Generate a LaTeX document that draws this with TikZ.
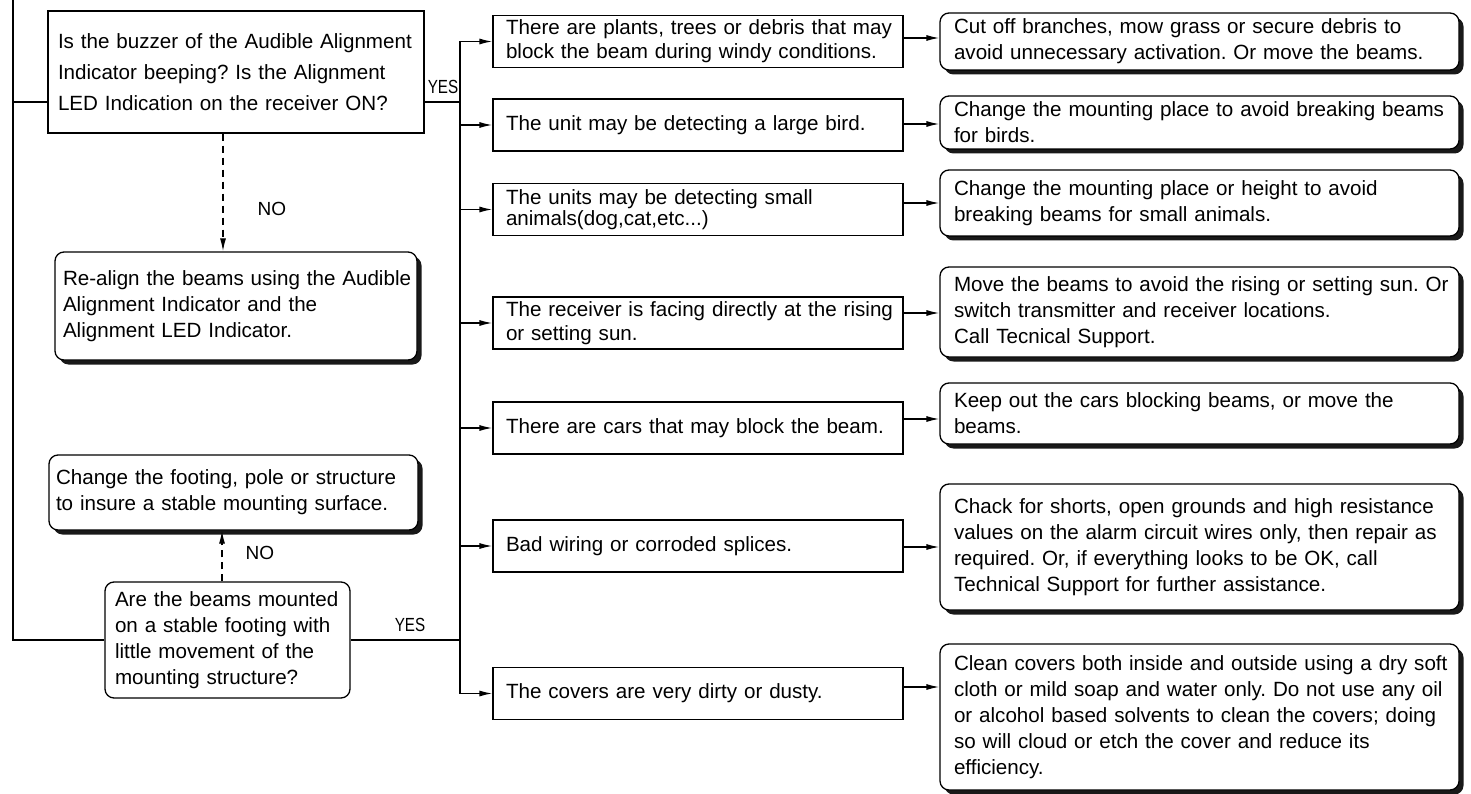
\documentclass[tikz,border=0pt]{standalone}
\usepackage{fontspec}
\setmainfont{Liberation Sans}
\usetikzlibrary{arrows.meta,shadows,calc}
\frenchspacing
\begin{document}
\begin{tikzpicture}[x=1pt,y=-1pt,
  line width=1.3pt,
  txt/.style={font=\fontsize{20.6}{26}\selectfont, align=left, inner ysep=0pt},
  sqbox/.style={txt, draw, fill=white},
  rbox/.style={txt, draw, fill=white, rounded corners=9pt},
  shbox/.style={rbox, general shadow={fill=black!90, shadow xshift=4.5pt, shadow yshift=-4.5pt}},
  bbox/.style={sqbox, minimum width=410pt, text width=384pt, inner xsep=13pt, minimum height=52pt, font=\fontsize{20.6}{24}\selectfont},
  resbox/.style={shbox, minimum width=519pt, text width=491pt, inner xsep=14pt},
  arr/.style={-{Latex[length=13pt,width=6pt]}},
  dsh/.style={dash pattern=on 7pt off 5pt},
  lbl/.style={font=\fontsize{19}{19}\selectfont, inner sep=0pt},
]
\useasboundingbox (0,0) rectangle (1471,794);

% left column
\node[sqbox, minimum width=376pt, text width=356pt, inner xsep=10pt, minimum height=122pt,
      font=\fontsize{20.6}{31}\selectfont] (Q1) at (236,72)
  {\mbox{Is the buzzer of the Audible Alignment}\\\mbox{Indicator beeping? Is the Alignment}\\\mbox{LED Indication on the receiver ON?}};
\node[shbox, minimum width=362pt, text width=346pt, inner xsep=8pt, minimum height=108pt] (C1) at (236,306)
  {\mbox{Re-align the beams using the Audible}\\\mbox{Alignment Indicator and the}\\\mbox{Alignment LED Indicator.}};
\node[shbox, minimum width=369pt, text width=355pt, inner xsep=7pt, minimum height=75pt] (C2) at (233.5,492.5)
  {\mbox{Change the footing, pole or structure}\\\mbox{to insure a stable mounting surface.}};
\node[rbox, minimum width=245pt, text width=225pt, inner xsep=10pt, minimum height=116pt] (Q2) at (227.5,640)
  {\mbox{Are the beams mounted}\\\mbox{on a stable footing with}\\\mbox{little movement of the}\\\mbox{mounting structure?}};

% middle column
\node[bbox] (B1) at (698,41.5) {\mbox{There are plants, trees or debris that may}\\\mbox{block the beam during windy conditions.}};
\node[bbox] (B2) at (698,125) {\mbox{The unit may be detecting a large bird.}};
\node[bbox, font=\fontsize{20.6}{21}\selectfont] (B3) at (698,209.5) {\mbox{The units may be detecting small}\\\mbox{animals(dog,cat,etc...)}};
\node[bbox] (B4) at (698,323) {\mbox{The receiver is facing directly at the rising}\\\mbox{or setting sun.}};
\node[bbox] (B5) at (698,428) {\mbox{There are cars that may block the beam.}};
\node[bbox] (B6) at (698,546) {\mbox{Bad wiring or corroded splices.}};
\node[bbox] (B7) at (698,693.5) {\mbox{The covers are very dirty or dusty.}};

% right column
\node[resbox, minimum height=57pt] (R1) at (1199.5,41.5)
  {\mbox{Cut off branches, mow grass or secure debris to}\\\mbox{avoid unnecessary activation. Or move the beams.}};
\node[resbox, minimum height=53pt] (R2) at (1199.5,122.5)
  {\mbox{Change the mounting place to avoid breaking beams}\\\mbox{for birds.}};
\node[resbox, minimum height=66pt] (R3) at (1199.5,203)
  {\mbox{Change the mounting place or height to avoid}\\\mbox{breaking beams for small animals.}};
\node[resbox, minimum height=90pt] (R4) at (1199.5,312)
  {\mbox{Move the beams to avoid the rising or setting sun. Or}\\\mbox{switch transmitter and receiver locations.}\\\mbox{Call Tecnical Support.}};
\node[resbox, minimum height=61pt] (R5) at (1199.5,413.5)
  {\mbox{Keep out the cars blocking beams, or move the}\\\mbox{beams.}};
\node[resbox, minimum height=126pt] (R6) at (1199.5,547)
  {\mbox{Chack for shorts, open grounds and high resistance}\\\mbox{values on the alarm circuit wires only, then repair as}\\\mbox{required. Or, if everything looks to be OK, call}\\\mbox{Technical Support for further assistance.}};
\node[resbox, minimum height=146pt] (R7) at (1199.5,717)
  {\mbox{Clean covers both inside and outside using a dry soft}\\\mbox{cloth or mild soap and water only. Do not use any oil}\\\mbox{or alcohol based solvents to clean the covers; doing}\\\mbox{so will cloud or etch the cover and reduce its}\\\mbox{efficiency.}};

% helper coordinates
\coordinate (L) at (13,0);
\coordinate (T) at (460,0);
\coordinate (d1) at (223,0);
\coordinate (d2) at (222,0);
\coordinate (q1w) at ($(Q1.west)+(0,30)$);
\coordinate (q1e) at ($(Q1.east)+(0,30)$);
\coordinate (o1) at (0,38);
\coordinate (o2) at (0,124);
\coordinate (o3) at (0,203);
\coordinate (o4) at (0,313);
\coordinate (o5) at (0,419);
\coordinate (o6) at (0,547);
\coordinate (o7) at (0,687);

% left trunk
\draw (L) -- (L |- Q2.west) -- (Q2.west);
\draw (q1w) -- (q1w -| L);

% YES lines and right trunk
\draw (q1e) -- (q1e -| T);
\draw (Q2.east) -- (Q2.east -| T);
\draw (B1.west -| T) -- (B7.west -| T);
\foreach \i in {1,...,7} { \draw[arr] (B\i.west -| T) -- (B\i.west); }
\foreach \i in {1,...,7} { \draw[arr] (B\i.east |- o\i) -- (R\i.west |- o\i); }

% NO dashed arrows
\draw[arr, dsh] (Q1.south -| d1) -- (C1.north -| d1);
\draw[arr, dsh] (Q2.north -| d2) -- (C2.south -| d2);

% labels
\node[lbl, anchor=west] (no1) at (257,209) {NO};
\node[lbl, anchor=west] (no2) at (245,553) {NO};
\node[lbl, xscale=0.8] (yes1) at (443,87) {YES};
\node[lbl, xscale=0.8] (yes2) at (410,625) {YES};
\end{tikzpicture}
\end{document}
